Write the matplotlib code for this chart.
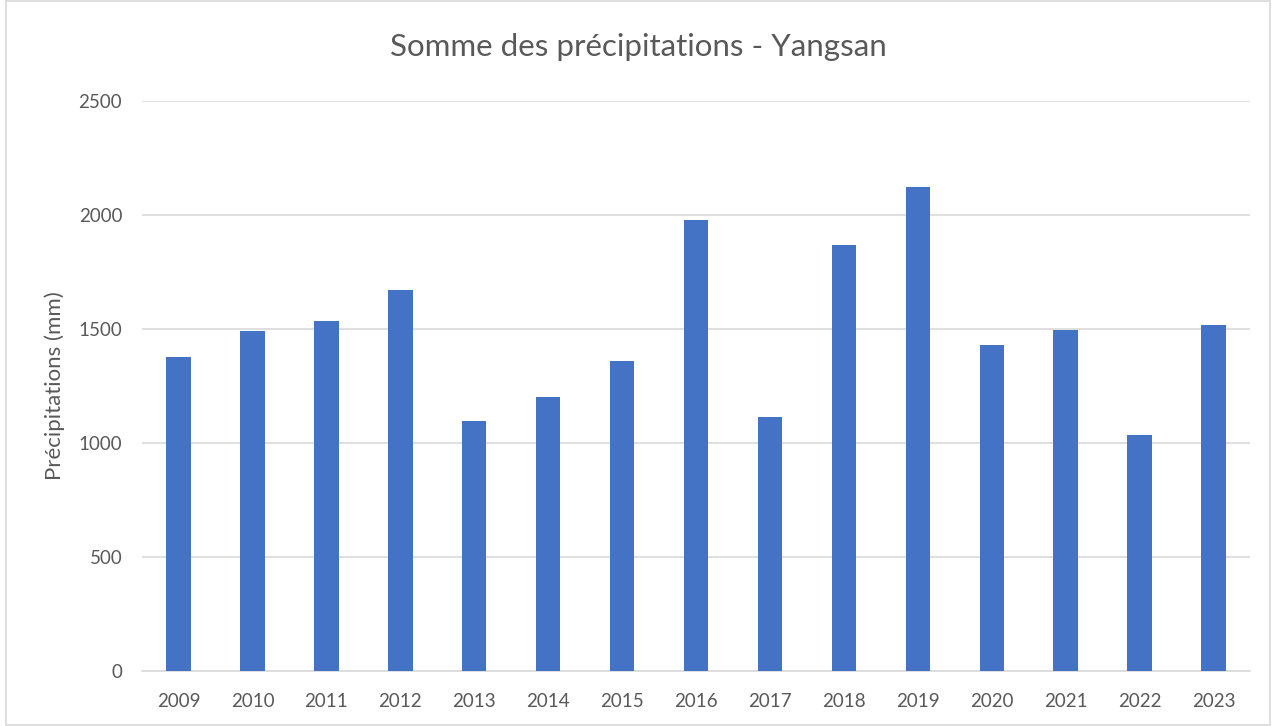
import numpy as np
import matplotlib.pyplot as plt
from matplotlib.patches import Rectangle

plt.rcParams['font.family'] = ['Lato', 'DejaVu Sans']

years = ['2009', '2010', '2011', '2012', '2013', '2014', '2015', '2016',
         '2017', '2018', '2019', '2020', '2021', '2022', '2023']
precip = [1377, 1491, 1535, 1671, 1096, 1202, 1360, 1978,
          1114, 1868, 2123, 1430, 1496, 1035, 1518]

grey = '#595959'
fig = plt.figure(figsize=(12.76, 7.26), dpi=100)
ax = fig.add_axes([0.111, 0.0758, 0.869, 0.785])

x = np.arange(len(years))
ax.bar(x, precip, width=0.33, color='#4472C4', zorder=3)

ax.set_xlim(-0.5, len(years) - 0.5)
ax.set_ylim(0, 2500)
ax.set_yticks(np.arange(0, 2501, 500))
ax.set_xticks(x)
ax.set_xticklabels(years)
ax.grid(axis='y', color='#d9d9d9', linewidth=1.2, zorder=0)
for s in ['top', 'right', 'left']:
    ax.spines[s].set_visible(False)
ax.spines['bottom'].set_color('#d9d9d9')
ax.spines['bottom'].set_linewidth(1.2)
ax.tick_params(length=0, labelsize=13.5, colors=grey)
ax.tick_params(axis='x', pad=16)
ax.tick_params(axis='y', pad=14)
ax.set_ylabel('Précipitations (mm)', fontsize=16, color=grey, labelpad=10)
fig.suptitle('Somme des précipitations - Yangsan', fontsize=22.5, color=grey, y=0.955)

fig.patches.append(Rectangle((0.005, 0.002), 0.99, 0.996, transform=fig.transFigure,
                             fill=False, edgecolor='#d9d9d9', linewidth=1.2))

fig.savefig('out.png', dpi=100)
